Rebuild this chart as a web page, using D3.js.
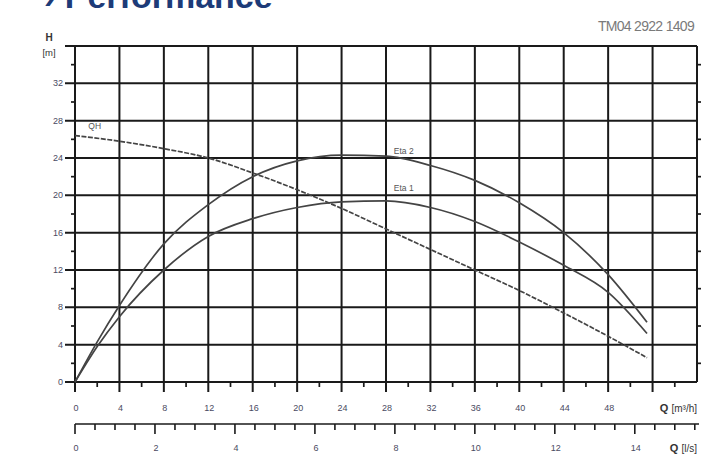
<!DOCTYPE html>
<html>
<head>
<meta charset="utf-8">
<script src="https://cdn.jsdelivr.net/npm/d3@7"></script>
<style>
  html, body { margin: 0; padding: 0; background: #fff; }
  svg { display: block; }
  text { font-family: "Liberation Sans", Arial, sans-serif; }
</style>
</head>
<body>
<svg id="chart" width="701" height="459"></svg>
<script>
// ---- data ----
const qhQ   = [0, 4, 8, 12, 16, 20, 24, 28, 32, 36, 40, 44, 48, 51.5];
const qhH   = [26.4, 25.8, 25.0, 24.0, 22.4, 20.6, 18.6, 16.4, 14.2, 12.0, 9.8, 7.4, 4.9, 2.6];
const eta2Q = [0, 2, 4, 8, 12, 16, 20, 24, 28, 32, 36, 40, 44, 48, 51.5];
const eta2H = [0, 4.3, 8.2, 14.8, 19.0, 22.0, 23.7, 24.3, 24.2, 23.2, 21.6, 19.2, 16.0, 11.5, 6.4];
const eta1Q = [0, 2, 4, 8, 12, 16, 20, 24, 28, 32, 36, 40, 44, 48, 51.5];
const eta1H = [0, 3.8, 7.0, 12.0, 15.6, 17.5, 18.7, 19.3, 19.4, 18.7, 17.2, 15.0, 12.5, 9.6, 5.2];
const hTicks  = [0, 4, 8, 12, 16, 20, 24, 28, 32];
const qTicks  = [0, 4, 8, 12, 16, 20, 24, 28, 32, 36, 40, 44, 48];
const lsTicks = [0, 2, 4, 6, 8, 10, 12, 14];
const curveLabels = [
  {name: "QH",    q: 1.2,  h: 27.4},
  {name: "Eta 2", q: 28.7, h: 24.8},
  {name: "Eta 1", q: 28.7, h: 20.8}
];

const svg = d3.select("#chart");
const x = d3.scaleLinear().domain([0, 56]).range([75, 697]);
const y = d3.scaleLinear().domain([0, 36]).range([382, 46]);
const xl = d3.scaleLinear().domain([0, 56 / 3.6]).range([75, 697]);

const gridColor = "#1a1a1a";
const labelColor = "#4a4a62";

// Title (cut off at the top, as in the reference)
svg.append("text").attr("x", 44).attr("y", 8)
  .attr("font-size", 34).attr("font-weight", "bold").attr("fill", "#1d3b78")
  .text("› Performance");

svg.append("text").attr("x", 694).attr("y", 31).attr("text-anchor", "end")
  .attr("font-size", 14).attr("fill", "#7a7a7a").attr("letter-spacing", -0.7)
  .text("TM04 2922 1409");

const g = svg.append("g");

// horizontal grid
g.selectAll("line.h").data(d3.range(0, 37, 4)).join("line")
  .attr("x1", 65).attr("x2", x(56)).attr("y1", d => y(d)).attr("y2", d => y(d))
  .attr("stroke", gridColor).attr("stroke-width", 2);
// vertical grid
g.selectAll("line.v").data(d3.range(0, 53, 4)).join("line")
  .attr("x1", d => x(d)).attr("x2", d => x(d)).attr("y1", y(36)).attr("y2", y(0) + 10)
  .attr("stroke", gridColor).attr("stroke-width", 2);
// right border
g.append("line").attr("x1", x(56)).attr("x2", x(56)).attr("y1", y(36)).attr("y2", y(0))
  .attr("stroke", gridColor).attr("stroke-width", 2);
// minor ticks x
g.selectAll("line.mx").data(d3.range(2, 56, 4)).join("line")
  .attr("x1", d => x(d)).attr("x2", d => x(d)).attr("y1", y(0)).attr("y2", y(0) + 5)
  .attr("stroke", gridColor).attr("stroke-width", 1.7);
// minor ticks y (left & right)
g.selectAll("line.my").data(d3.range(2, 36, 4)).join("line")
  .attr("x1", x(0) - 4).attr("x2", x(0)).attr("y1", d => y(d)).attr("y2", d => y(d))
  .attr("stroke", gridColor).attr("stroke-width", 1.7);
g.selectAll("line.myr").data(d3.range(2, 36, 4)).join("line")
  .attr("x1", x(56)).attr("x2", x(56) + 4).attr("y1", d => y(d)).attr("y2", d => y(d))
  .attr("stroke", gridColor).attr("stroke-width", 1.7);

// y labels
g.selectAll("text.yl").data(hTicks).join("text")
  .attr("x", 63).attr("y", d => y(d)).attr("dy", "0.35em").attr("text-anchor", "end")
  .attr("font-size", 9).attr("fill", labelColor).text(d => d);
svg.append("text").attr("x", 49).attr("y", 41).attr("text-anchor", "middle")
  .attr("font-size", 10).attr("font-weight", "bold").attr("fill", "#333").text("H");
svg.append("text").attr("x", 49).attr("y", 56).attr("text-anchor", "middle")
  .attr("font-size", 9.5).attr("fill", "#333").text("[m]");

// x labels
g.selectAll("text.xl").data(qTicks).join("text")
  .attr("x", d => x(d) + 1).attr("y", 408).attr("dy", "0.35em").attr("text-anchor", "middle")
  .attr("font-size", 9).attr("fill", labelColor).text(d => d);
const qm = svg.append("text").attr("x", 697).attr("y", 408).attr("dy", "0.35em")
  .attr("text-anchor", "end").attr("font-size", 10).attr("fill", "#333");
qm.append("tspan").attr("font-weight", "bold").attr("font-size", 11).text("Q ");
qm.append("tspan").text("[m³/h]");

// second axis l/s
g.append("line").attr("x1", x(0)).attr("x2", 699).attr("y1", 424).attr("y2", 424)
  .attr("stroke", gridColor).attr("stroke-width", 1.7);
g.selectAll("line.ls").data(d3.range(0, 15.6, 0.5)).join("line")
  .attr("x1", d => xl(d)).attr("x2", d => xl(d)).attr("y1", 424)
  .attr("y2", d => (d % 2 === 0 ? 434 : 430))
  .attr("stroke", gridColor).attr("stroke-width", 1.6);
g.selectAll("text.lsl").data(lsTicks).join("text")
  .attr("x", d => xl(d) + 1).attr("y", 448).attr("dy", "0.35em").attr("text-anchor", "middle")
  .attr("font-size", 9).attr("fill", labelColor).text(d => d);
const ql = svg.append("text").attr("x", 697).attr("y", 448).attr("dy", "0.35em")
  .attr("text-anchor", "end").attr("font-size", 10).attr("fill", "#333");
ql.append("tspan").attr("font-weight", "bold").attr("font-size", 11).text("Q ");
ql.append("tspan").text("[l/s]");

// curves
const line = d3.line().x(d => x(d[0])).y(d => y(d[1])).curve(d3.curveMonotoneX);
const curveColor = "#444";
svg.append("path").attr("d", line(d3.zip(eta2Q, eta2H)))
  .attr("fill", "none").attr("stroke", curveColor).attr("stroke-width", 1.7);
svg.append("path").attr("d", line(d3.zip(eta1Q, eta1H)))
  .attr("fill", "none").attr("stroke", curveColor).attr("stroke-width", 1.7);
svg.append("path").attr("d", line(d3.zip(qhQ, qhH)))
  .attr("fill", "none").attr("stroke", curveColor).attr("stroke-width", 1.7)
  .attr("stroke-dasharray", "5,1.5");

svg.selectAll("text.cl").data(curveLabels).join("text")
  .attr("x", d => x(d.q)).attr("y", d => y(d.h)).attr("dy", "0.35em")
  .attr("font-size", 8.5).attr("fill", "#555").text(d => d.name);
</script>
</body>
</html>
